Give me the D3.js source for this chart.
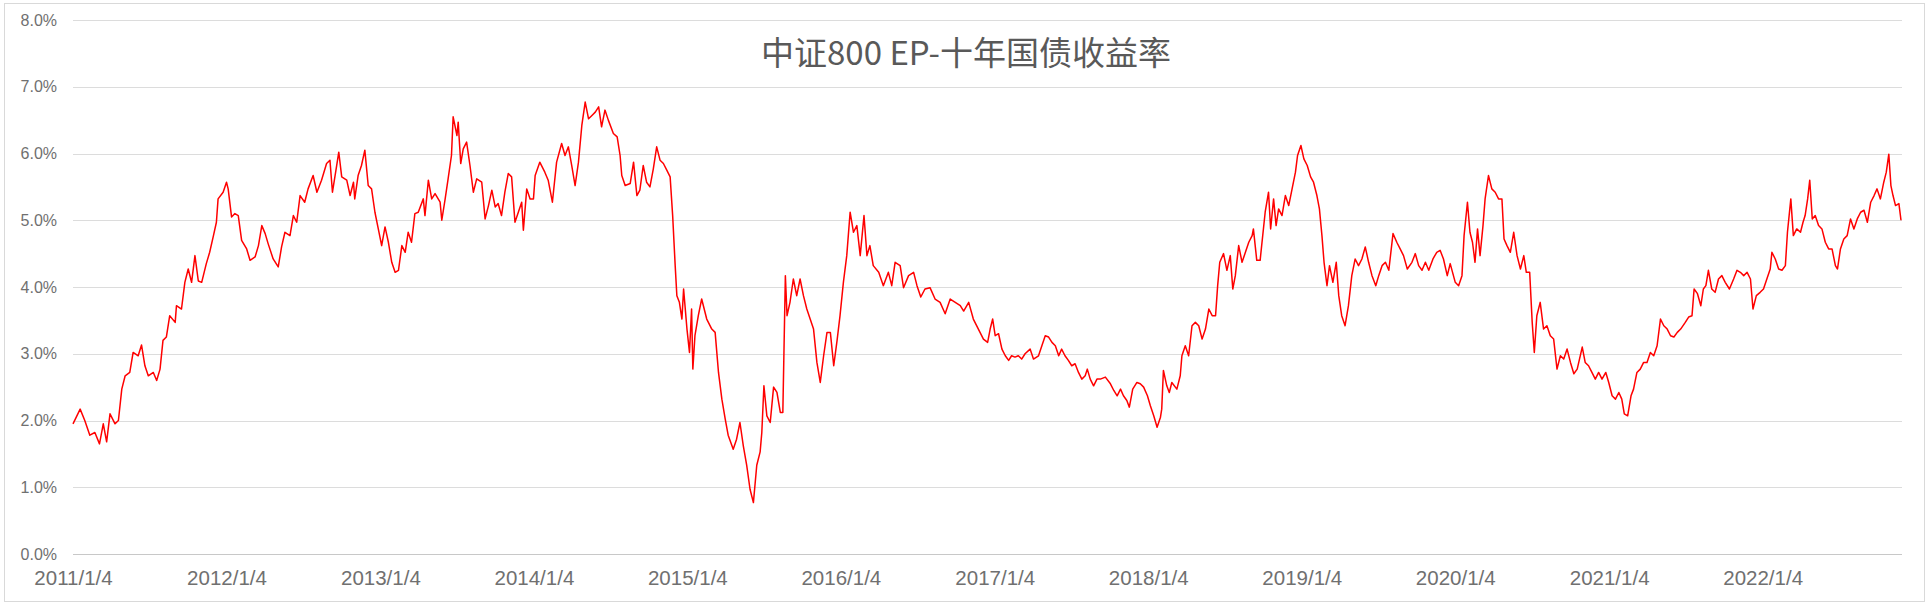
<!DOCTYPE html>
<html>
<head>
<meta charset="utf-8">
<script src="https://cdn.jsdelivr.net/npm/d3@7"></script>
<style>
  html, body { margin: 0; padding: 0; background: #fff; }
</style>
</head>
<body>
<svg id="chart" width="1930" height="606"></svg>
<script>
// Chart text and axis ticks
const chartTitle = "中证800 EP-十年国债收益率"
const yTicks = [0, 1, 2, 3, 4, 5, 6, 7, 8]
const xTickDates = ["2011-01-04", "2012-01-04", "2013-01-04", "2014-01-04", "2015-01-04", "2016-01-04",
  "2017-01-04", "2018-01-04", "2019-01-04", "2020-01-04", "2021-01-04", "2022-01-04"]

const dates = [
  // 2011
  "2011-01-04","2011-01-21","2011-02-01","2011-02-13","2011-02-25","2011-03-08","2011-03-17","2011-03-25","2011-04-02","2011-04-14",
  "2011-04-22","2011-04-30","2011-05-08","2011-05-19","2011-05-27","2011-06-08","2011-06-16","2011-06-24","2011-07-02","2011-07-14",
  "2011-07-22","2011-07-30","2011-08-06","2011-08-14","2011-08-22","2011-09-04","2011-09-07","2011-09-19","2011-09-27","2011-10-05",
  "2011-10-13","2011-10-21","2011-10-29","2011-11-06","2011-11-17","2011-11-25","2011-12-04","2011-12-11","2011-12-15","2011-12-27",
  // 2012
  "2012-01-04","2012-01-08","2012-01-16","2012-01-24","2012-02-01","2012-02-09","2012-02-21","2012-02-29","2012-03-12","2012-03-20",
  "2012-03-28","2012-04-05","2012-04-12","2012-04-24","2012-05-06","2012-05-14","2012-05-22","2012-06-03","2012-06-11","2012-06-19",
  "2012-06-27","2012-07-08","2012-07-16","2012-07-28","2012-08-06","2012-08-17","2012-08-29","2012-09-06","2012-09-12","2012-09-22",
  "2012-09-27","2012-10-04","2012-10-16","2012-10-24","2012-11-01","2012-11-04","2012-11-12","2012-11-20","2012-11-28","2012-12-06",
  "2012-12-14","2012-12-22","2012-12-30",
  // 2013
  "2013-01-07","2013-01-15","2013-01-23","2013-01-31","2013-02-08","2013-02-16","2013-02-24","2013-03-04","2013-03-11","2013-03-19",
  "2013-03-27","2013-04-04","2013-04-16","2013-04-20","2013-04-28","2013-05-06","2013-05-14","2013-05-26","2013-05-30","2013-06-07",
  "2013-06-14","2013-06-22","2013-06-26","2013-07-05","2013-07-08","2013-07-14","2013-07-20","2013-07-28","2013-08-05","2013-08-13",
  "2013-08-21","2013-09-02","2013-09-10","2013-09-18","2013-09-26","2013-10-04","2013-10-11","2013-10-19","2013-10-27","2013-11-04",
  "2013-11-12","2013-11-20","2013-11-28","2013-12-06","2013-12-10","2013-12-18","2013-12-26",
  // 2014
  "2014-01-03","2014-01-07","2014-01-18","2014-01-30","2014-02-07","2014-02-17","2014-02-27","2014-03-11","2014-03-19","2014-03-27",
  "2014-04-04","2014-04-12","2014-04-20","2014-04-28","2014-05-06","2014-05-14","2014-05-22","2014-05-30","2014-06-07","2014-06-14",
  "2014-06-22","2014-06-30","2014-07-12","2014-07-21","2014-07-28","2014-08-01","2014-08-09","2014-08-21","2014-08-29","2014-09-06",
  "2014-09-13","2014-09-21","2014-09-29","2014-10-07","2014-10-15","2014-10-23","2014-10-31","2014-11-08","2014-11-16","2014-11-24",
  "2014-11-30","2014-12-06","2014-12-10","2014-12-16","2014-12-22","2014-12-26",
  // 2015
  "2015-01-03","2015-01-09","2015-01-14","2015-01-17","2015-01-22","2015-01-30","2015-02-07","2015-02-19","2015-03-03","2015-03-11",
  "2015-03-19","2015-03-27","2015-04-04","2015-04-11","2015-04-23","2015-05-01","2015-05-09","2015-05-17","2015-05-25","2015-06-02",
  "2015-06-10","2015-06-18","2015-06-26","2015-06-30","2015-07-05","2015-07-12","2015-07-20","2015-07-28","2015-08-05","2015-08-13",
  "2015-08-19","2015-08-25","2015-08-29","2015-09-05","2015-09-13","2015-09-21","2015-09-29","2015-10-07","2015-10-15","2015-10-23",
  "2015-10-31","2015-11-08","2015-11-16","2015-11-24","2015-12-02","2015-12-10","2015-12-18","2015-12-26",
  // 2016
  "2016-01-02","2016-01-10","2016-01-18","2016-01-26","2016-02-03","2016-02-11","2016-02-19","2016-02-28","2016-03-06","2016-03-13",
  "2016-03-21","2016-04-03","2016-04-14","2016-04-26","2016-05-04","2016-05-12","2016-05-24","2016-06-01","2016-06-13","2016-06-25",
  "2016-07-03","2016-07-12","2016-07-22","2016-08-03","2016-08-15","2016-08-27","2016-09-08","2016-09-20","2016-10-02","2016-10-14",
  "2016-10-22","2016-11-03","2016-11-14","2016-11-26","2016-12-08","2016-12-18","2016-12-24","2016-12-30",
  // 2017
  "2017-01-05","2017-01-13","2017-01-21","2017-01-29","2017-02-06","2017-02-13","2017-02-21","2017-03-01","2017-03-09","2017-03-17",
  "2017-03-29","2017-04-06","2017-04-18","2017-04-26","2017-05-04","2017-05-12","2017-05-20","2017-05-28","2017-06-05","2017-06-12",
  "2017-06-20","2017-06-28","2017-07-06","2017-07-14","2017-07-22","2017-07-30","2017-08-07","2017-08-12","2017-08-19","2017-08-27",
  "2017-09-04","2017-09-12","2017-09-24","2017-10-06","2017-10-14","2017-10-22","2017-10-30","2017-11-06","2017-11-14","2017-11-20",
  "2017-11-28","2017-12-08","2017-12-16","2017-12-24",
  // 2018
  "2018-01-02","2018-01-09","2018-01-17","2018-01-25","2018-02-02","2018-02-05","2018-02-09","2018-02-17","2018-02-23","2018-03-01",
  "2018-03-13","2018-03-21","2018-03-25","2018-04-02","2018-04-10","2018-04-18","2018-04-26","2018-05-04","2018-05-12","2018-05-20",
  "2018-05-28","2018-06-05","2018-06-13","2018-06-18","2018-06-23","2018-07-02","2018-07-10","2018-07-18","2018-07-24","2018-07-30",
  "2018-08-07","2018-08-15","2018-08-23","2018-08-31","2018-09-08","2018-09-11","2018-09-19","2018-09-27","2018-10-09","2018-10-17",
  "2018-10-22","2018-10-29","2018-11-04","2018-11-10","2018-11-18","2018-11-26","2018-12-04","2018-12-12","2018-12-20","2018-12-25",
  // 2019
  "2019-01-02","2019-01-09","2019-01-17","2019-01-25","2019-02-01","2019-02-09","2019-02-15","2019-02-21","2019-02-26","2019-03-05",
  "2019-03-11","2019-03-19","2019-03-27","2019-04-02","2019-04-09","2019-04-17","2019-04-25","2019-05-03","2019-05-11","2019-05-19",
  "2019-05-27","2019-06-04","2019-06-12","2019-06-20","2019-06-29","2019-07-06","2019-07-14","2019-07-22","2019-07-30","2019-08-09",
  "2019-08-18","2019-08-26","2019-09-03","2019-09-12","2019-09-23","2019-10-01","2019-10-09","2019-10-17","2019-10-25","2019-11-02",
  "2019-11-12","2019-11-21","2019-11-29","2019-12-07","2019-12-16","2019-12-23",
  // 2020
  "2020-01-04","2020-01-12","2020-01-20","2020-01-25","2020-02-02","2020-02-08","2020-02-14","2020-02-20","2020-02-26","2020-03-03",
  "2020-03-10","2020-03-15","2020-03-23","2020-03-31","2020-04-08","2020-04-16","2020-04-24","2020-04-29","2020-05-06","2020-05-14",
  "2020-05-22","2020-05-30","2020-06-07","2020-06-15","2020-06-21","2020-06-29","2020-07-05","2020-07-10","2020-07-16","2020-07-24",
  "2020-08-01","2020-08-09","2020-08-17","2020-08-25","2020-09-02","2020-09-10","2020-09-18","2020-09-26","2020-10-04","2020-10-12",
  "2020-10-20","2020-11-01","2020-11-08","2020-11-16","2020-11-24","2020-12-02","2020-12-10","2020-12-18","2020-12-27",
  // 2021
  "2021-01-03","2021-01-11","2021-01-19","2021-01-27","2021-02-03","2021-02-09","2021-02-17","2021-02-25","2021-03-03","2021-03-11",
  "2021-03-19","2021-03-27","2021-04-04","2021-04-12","2021-04-20","2021-04-28","2021-05-06","2021-05-14","2021-05-22","2021-05-30",
  "2021-06-07","2021-06-15","2021-06-23","2021-07-04","2021-07-12","2021-07-20","2021-07-25","2021-08-02","2021-08-10","2021-08-16",
  "2021-08-22","2021-08-28","2021-09-05","2021-09-13","2021-09-21","2021-09-29","2021-10-07","2021-10-17","2021-10-27","2021-11-04",
  "2021-11-12","2021-11-20","2021-11-28","2021-12-06","2021-12-12","2021-12-20","2021-12-29",
  // 2022
  "2022-01-06","2022-01-14","2022-01-22","2022-01-26","2022-02-03","2022-02-11","2022-02-19","2022-02-27","2022-03-04","2022-03-12",
  "2022-03-18","2022-03-26","2022-04-04","2022-04-10","2022-04-15","2022-04-21","2022-04-26","2022-05-02","2022-05-09","2022-05-17",
  "2022-05-25","2022-06-02","2022-06-10","2022-06-18","2022-06-26","2022-07-01","2022-07-08","2022-07-16","2022-07-24","2022-08-01",
  "2022-08-09","2022-08-17","2022-08-25","2022-09-02","2022-09-10","2022-09-18","2022-09-26","2022-10-03","2022-10-11","2022-10-19",
  "2022-10-25","2022-10-31","2022-11-05","2022-11-10","2022-11-16","2022-11-24","2022-11-29"
]

// EP minus 10y government bond yield, in percent
const spread = [
  // 2011
  1.95,2.17,2.00,1.78,1.82,1.65,1.95,1.68,2.10,1.95,
  2.00,2.47,2.67,2.72,3.02,2.97,3.13,2.82,2.67,2.72,
  2.60,2.77,3.20,3.25,3.57,3.47,3.72,3.67,4.07,4.27,
  4.07,4.47,4.09,4.07,4.35,4.52,4.77,4.97,5.32,5.42,
  // 2012
  5.57,5.47,5.05,5.10,5.07,4.70,4.57,4.40,4.45,4.62,
  4.92,4.80,4.65,4.42,4.30,4.60,4.82,4.77,5.07,4.97,
  5.37,5.27,5.47,5.67,5.42,5.60,5.85,5.90,5.42,5.82,
  6.02,5.65,5.60,5.37,5.57,5.32,5.67,5.82,6.05,5.52,
  5.47,5.12,4.87,
  // 2013
  4.62,4.90,4.67,4.37,4.22,4.25,4.62,4.52,4.82,4.67,
  5.10,5.12,5.32,5.07,5.60,5.32,5.40,5.27,5.00,5.32,
  5.62,5.97,6.55,6.27,6.47,5.85,6.07,6.17,5.82,5.42,
  5.62,5.57,5.02,5.22,5.45,5.20,5.25,5.07,5.42,5.70,
  5.65,4.97,5.12,5.27,4.85,5.47,5.32,
  // 2014
  5.32,5.67,5.87,5.72,5.60,5.27,5.87,6.15,5.97,6.10,
  5.82,5.52,5.87,6.42,6.77,6.52,6.57,6.62,6.70,6.40,
  6.65,6.50,6.30,6.25,5.97,5.67,5.52,5.55,5.87,5.37,
  5.45,5.82,5.57,5.50,5.77,6.10,5.90,5.85,5.75,5.65,
  5.07,4.32,3.87,3.77,3.52,3.97,
  // 2015
  3.37,3.02,3.67,2.77,3.27,3.57,3.82,3.52,3.37,3.32,
  2.72,2.32,2.02,1.78,1.57,1.72,1.97,1.62,1.33,0.97,
  0.77,1.33,1.53,1.82,2.52,2.07,1.97,2.50,2.42,2.12,
  2.12,4.17,3.57,3.77,4.12,3.87,4.12,3.87,3.67,3.52,
  3.37,2.87,2.57,2.97,3.32,3.32,2.82,3.20,
  // 2016
  3.57,4.07,4.47,5.12,4.82,4.92,4.47,5.07,4.47,4.62,
  4.32,4.22,4.02,4.22,4.02,4.37,4.32,3.99,4.17,4.22,
  4.02,3.85,3.97,3.99,3.82,3.77,3.60,3.82,3.77,3.72,
  3.64,3.77,3.52,3.37,3.22,3.17,3.37,3.52,
  // 2017
  3.27,3.30,3.07,2.97,2.90,2.97,2.95,2.97,2.92,3.00,
  3.07,2.92,2.97,3.12,3.27,3.25,3.17,3.12,2.97,3.07,
  2.97,2.90,2.82,2.85,2.72,2.62,2.67,2.77,2.62,2.52,
  2.62,2.62,2.65,2.55,2.45,2.37,2.47,2.37,2.30,2.20,
  2.47,2.57,2.55,2.50,
  // 2018
  2.37,2.22,2.07,1.90,2.05,2.17,2.75,2.52,2.42,2.57,
  2.47,2.67,2.97,3.12,2.97,3.42,3.47,3.42,3.22,3.37,
  3.67,3.57,3.57,4.02,4.37,4.50,4.25,4.47,3.97,4.17,
  4.62,4.37,4.52,4.67,4.77,4.87,4.40,4.40,5.12,5.42,
  4.87,5.32,4.92,5.17,5.07,5.37,5.22,5.47,5.72,5.97,
  // 2019
  6.12,5.92,5.82,5.65,5.57,5.37,5.17,4.77,4.37,4.02,
  4.32,4.07,4.37,3.87,3.57,3.42,3.72,4.17,4.42,4.32,
  4.42,4.60,4.37,4.17,4.02,4.17,4.32,4.37,4.25,4.80,
  4.67,4.57,4.47,4.27,4.37,4.50,4.32,4.25,4.37,4.25,
  4.42,4.52,4.55,4.42,4.17,4.35,
  // 2020
  4.07,4.02,4.17,4.77,5.27,4.82,4.67,4.37,4.87,4.47,
  4.92,5.32,5.67,5.47,5.42,5.32,5.32,4.72,4.62,4.52,
  4.82,4.47,4.27,4.47,4.22,4.22,3.47,3.02,3.57,3.77,
  3.37,3.42,3.27,3.22,2.77,2.97,2.92,3.07,2.87,2.70,
  2.77,3.10,2.87,2.82,2.72,2.62,2.72,2.62,2.72,
  // 2021
  2.57,2.37,2.32,2.42,2.32,2.10,2.07,2.37,2.47,2.72,
  2.77,2.87,2.87,3.02,2.97,3.12,3.52,3.42,3.37,3.27,
  3.25,3.32,3.37,3.47,3.55,3.57,3.97,3.90,3.72,3.97,
  4.02,4.25,3.97,3.92,4.12,4.17,4.07,3.97,4.12,4.25,
  4.22,4.17,4.22,4.12,3.67,3.87,3.92,
  // 2022
  3.97,4.12,4.27,4.52,4.42,4.27,4.25,4.32,4.82,5.32,
  4.77,4.87,4.82,4.97,5.07,5.32,5.60,5.02,5.07,4.92,
  4.87,4.67,4.57,4.57,4.32,4.27,4.57,4.72,4.77,5.02,
  4.87,5.02,5.12,5.15,4.97,5.27,5.37,5.47,5.32,5.57,
  5.72,5.99,5.52,5.37,5.22,5.25,5.00
]

if (dates.length !== spread.length) {
  console.error("length mismatch", dates.length, spread.length)
}

const parse = d3.timeParse("%Y-%m-%d")
const data = dates.map((d, i) => ({ date: parse(d), value: spread[i] }))

const svg = d3.select("#chart")

// Outer frame of the chart
svg.append("rect")
  .attr("x", 4.5)
  .attr("y", 3.5)
  .attr("width", 1920)
  .attr("height", 598)
  .attr("fill", "#fff")
  .attr("stroke", "#d9d9d9")
  .attr("stroke-width", 1)

// Plot area
const plotLeft = 73, plotRight = 1902, plotTop = 20, plotBottom = 554

const x = d3.scaleTime()
  .domain([data[0].date, data[data.length - 1].date])
  .range([plotLeft, plotRight - 1])

const y = d3.scaleLinear()
  .domain([0, 8])
  .range([plotBottom, plotTop])

// Horizontal gridlines
svg.append("g")
  .selectAll("line")
  .data(yTicks)
  .join("line")
  .attr("x1", plotLeft)
  .attr("x2", plotRight)
  .attr("y1", d => Math.round(y(d)) + 0.5)
  .attr("y2", d => Math.round(y(d)) + 0.5)
  .attr("stroke", d => d === 0 ? "#c8c8c8" : "#dcdcdc")
  .attr("stroke-width", 1)

// Y axis labels
const yAxis = svg.append("g")
  .attr("transform", `translate(${plotLeft - 16},0)`)
  .call(d3.axisLeft(y).tickValues(yTicks).tickSize(0).tickPadding(0)
    .tickFormat(d => d3.format(".1f")(d) + "%"))
yAxis.select(".domain").remove()
yAxis.selectAll("text")
  .attr("font-family", "'Liberation Sans', Arial, sans-serif")
  .attr("font-size", "16px")
  .attr("fill", "#707070")

// X axis labels (one per year, anchored on 1/4)
const xAxis = svg.append("g")
  .attr("transform", `translate(0,${plotBottom + 16})`)
  .call(d3.axisBottom(x).tickValues(xTickDates.map(parse)).tickSize(0).tickPadding(0)
    .tickFormat(d3.timeFormat("%Y/%-m/%-d")))
xAxis.select(".domain").remove()
xAxis.selectAll("text")
  .attr("font-family", "'Liberation Sans', Arial, sans-serif")
  .attr("font-size", "20.5px")
  .attr("fill", "#707070")

// The series
const line = d3.line()
  .x(d => x(d.date))
  .y(d => y(d.value))

svg.append("path")
  .datum(data)
  .attr("d", line)
  .attr("fill", "none")
  .attr("stroke", "#ff0000")
  .attr("stroke-width", 1.5)
  .attr("stroke-linejoin", "round")

// Title
svg.append("text")
  .attr("x", 966)
  .attr("y", 51)
  .attr("text-anchor", "middle")
  .attr("dominant-baseline", "central")
  .attr("font-family", "'Noto Sans CJK SC', sans-serif")
  .attr("font-size", "33px")
  .attr("fill", "#595959")
  .text(chartTitle)
</script>
</body>
</html>
